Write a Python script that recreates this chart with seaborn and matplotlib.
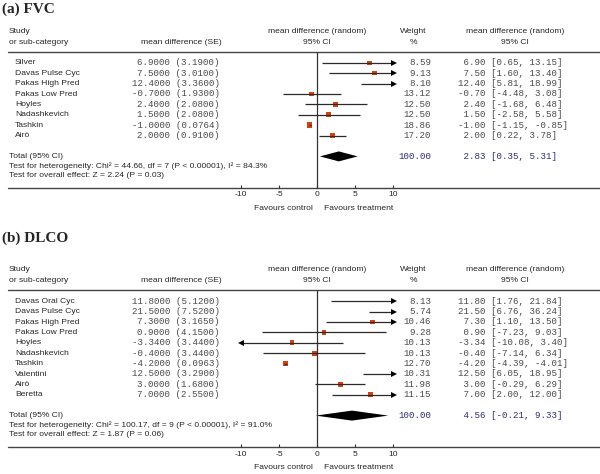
import numpy as np
import pandas as pd
import seaborn as sns
import matplotlib.pyplot as plt
from matplotlib import transforms

# (a) FVC
fvc_study = ["Silver", "Davas Pulse Cyc", "Pakas High Pred", "Pakas Low Pred",
             "Hoyles", "Nadashkevich", "Tashkin", "Airò"]
fvc_md = [6.90, 7.50, 12.40, -0.70, 2.40, 1.50, -1.00, 2.00]
fvc_se = [3.19, 3.01, 3.36, 1.93, 2.08, 2.08, 0.0764, 0.91]
fvc_lo = [0.65, 1.60, 5.81, -4.48, -1.68, -2.58, -1.15, 0.22]
fvc_hi = [13.15, 13.40, 18.99, 3.08, 6.48, 5.58, -0.85, 3.78]
fvc_w = [8.59, 9.13, 8.10, 13.12, 12.50, 12.50, 18.86, 17.20]
fvc_total = [2.83, 0.35, 5.31]
fvc_total_w = 100.00
fvc_het = "Test for heterogeneity: Chi² = 44.66, df = 7 (P < 0.00001), I² = 84.3%"
fvc_eff = "Test for overall effect: Z = 2.24 (P = 0.03)"

# (b) DLCO
dlco_study = ["Davas Oral Cyc", "Davas Pulse Cyc", "Pakas High Pred", "Pakas Low Pred",
              "Hoyles", "Nadashkevich", "Tashkin", "Valentini", "Airò", "Beretta"]
dlco_md = [11.80, 21.50, 7.30, 0.90, -3.34, -0.40, -4.20, 12.50, 3.00, 7.00]
dlco_se = [5.12, 7.52, 3.165, 4.15, 3.44, 3.44, 0.0963, 3.29, 1.68, 2.55]
dlco_lo = [1.76, 6.76, 1.10, -7.23, -10.08, -7.14, -4.39, 6.05, -0.29, 2.00]
dlco_hi = [21.84, 36.24, 13.50, 9.03, 3.40, 6.34, -4.01, 18.95, 6.29, 12.00]
dlco_w = [8.13, 5.74, 10.46, 9.28, 10.13, 10.13, 12.70, 10.31, 11.98, 11.15]
dlco_total = [4.56, -0.21, 9.33]
dlco_total_w = 100.00
dlco_het = "Test for heterogeneity: Chi² = 100.17, df = 9 (P < 0.00001), I² = 91.0%"
dlco_eff = "Test for overall effect: Z = 1.87 (P = 0.06)"

ticks = [-10, -5, 0, 5, 10]

sns.set_theme(style="white")
plt.rcParams["font.family"] = ["Liberation Sans", "DejaVu Sans"]

W, H = 600, 474
X0, PX = 317.3, 7.6    # pixel of zero, pixels per unit
SP = 10.4              # row spacing in pixels
SANS = 6.1
MONO = dict(family="Liberation Mono", size=6.6)
SQ = "#d8400e"
GREY = "#4a4a4a"
NAVY = "#2e2e78"

fig = plt.figure(figsize=(6, 4.74), dpi=100)


def panel(top, bot, y0, title, title_y, study, md, se, lo, hi, w, total, total_w, het, eff):
    ax = fig.add_axes([0, 1 - bot / H, 1, (bot - top) / H])
    ax.axis("off")
    tr = transforms.blended_transform_factory(ax.transAxes, ax.transData)
    n = len(study)
    rows = np.arange(n)
    r_tot = n + 1
    r_axis = n + 4

    df = pd.DataFrame({"md": md, "lo": lo, "hi": hi, "w": w, "row": rows})
    df["lo_c"] = df["lo"].clip(lower=-10)
    df["hi_c"] = df["hi"].clip(upper=10)

    # header / axis rules and the line of no effect
    ax.axhline(-1.05, xmin=8 / W, xmax=1, color="#444444", lw=1.0)
    ax.axhline(r_axis, xmin=8 / W, xmax=1, color="#444444", lw=1.0)
    ax.vlines(0, -1.05, r_axis, color="#333333", lw=0.9)
    ax.vlines(ticks, r_axis - 0.25, r_axis, color="#333333", lw=0.8)

    # confidence intervals, clipped to the axis with arrows
    ax.hlines(df["row"], df["lo_c"], df["hi_c"], color="#2a2a2a", lw=0.9)
    right = df[df["hi"] > 10]
    left = df[df["lo"] < -10]
    ax.plot(np.full(len(right), 10.1), right["row"], ls="none", marker=">",
            ms=4.5, color="black", mew=0)
    ax.plot(np.full(len(left), -10.1), left["row"], ls="none", marker="<",
            ms=4.5, color="black", mew=0)

    vis = df[df["md"].abs() <= 10]
    sns.scatterplot(data=vis, x="md", y="row", size="w", sizes=(9, 16),
                    size_norm=(5, 20), marker="s", color=SQ, linewidth=0,
                    legend=False, ax=ax)

    est, tlo, thi = total
    ax.fill([tlo, est, thi, est], [r_tot, r_tot - 0.48, r_tot, r_tot + 0.48],
            color="black", lw=0)

    ax.set_xlim(-X0 / PX, (W - X0) / PX)
    ax.set_ylim((bot - y0) / SP, (top - y0) / SP)
    ax.set_xlabel("")
    ax.set_ylabel("")

    # headers
    ax.text(9 / W, -3, "Study", transform=tr, fontsize=SANS, va="center")
    ax.text(9 / W, -2, "or sub-category", transform=tr, fontsize=SANS, va="center")
    ax.text(222 / W, -2, "mean difference (SE)", transform=tr, fontsize=SANS,
            va="center", ha="right")
    for cx, a, b in [(X0, "mean difference (random)", "95% CI"),
                     (413, "Weight", "%"),
                     (515, "mean difference (random)", "95% CI")]:
        ax.text(cx / W, -3, a, transform=tr, fontsize=SANS, va="center", ha="center")
        ax.text(cx / W, -2, b, transform=tr, fontsize=SANS, va="center", ha="center")

    for i in range(n):
        ax.text(15 / W, i, study[i], transform=tr, fontsize=SANS, va="center")
        ax.text(220 / W, i, f"{md[i]:.4f} ({se[i]:.4f})", transform=tr,
                va="center", ha="right", color=GREY, **MONO)
        ax.text(431 / W, i, f"{w[i]:.2f}", transform=tr, va="center",
                ha="right", color=GREY, **MONO)
        ax.text(458 / W, i, f"{md[i]:5.2f} [{lo[i]:.2f}, {hi[i]:.2f}]",
                transform=tr, va="center", ha="left", color=GREY, **MONO)

    ax.text(9 / W, r_tot, "Total (95% CI)", transform=tr, fontsize=SANS, va="center")
    ax.text(9 / W, r_tot + 0.92, het, transform=tr, fontsize=SANS, va="center")
    ax.text(9 / W, r_tot + 1.84, eff, transform=tr, fontsize=SANS, va="center")
    ax.text(431 / W, r_tot, f"{total_w:.2f}", transform=tr, va="center",
            ha="right", color=NAVY, **MONO)
    ax.text(458 / W, r_tot, f"{est:5.2f} [{tlo:.2f}, {thi:.2f}]", transform=tr,
            va="center", ha="left", color=NAVY, **MONO)

    for t in ticks:
        ax.text(t, r_axis + 0.7, f"{t}", fontsize=SANS, va="center", ha="center")
    ax.text(-0.6, r_axis + 2.0, "Favours control", fontsize=SANS, va="center", ha="right")
    ax.text(0.9, r_axis + 2.0, "Favours treatment", fontsize=SANS, va="center", ha="left")

    fig.text(2 / W, 1 - title_y / H, title, fontsize=11, fontweight="bold",
             family="Liberation Serif", va="center", ha="left")
    return ax


panel(0, 230, 62.8, "(a) FVC", 9, fvc_study, fvc_md, fvc_se, fvc_lo, fvc_hi,
      fvc_w, fvc_total, fvc_total_w, fvc_het, fvc_eff)
panel(230, 474, 301.2, "(b) DLCO", 238, dlco_study, dlco_md, dlco_se, dlco_lo,
      dlco_hi, dlco_w, dlco_total, dlco_total_w, dlco_het, dlco_eff)

fig.savefig("out.png", dpi=100)
